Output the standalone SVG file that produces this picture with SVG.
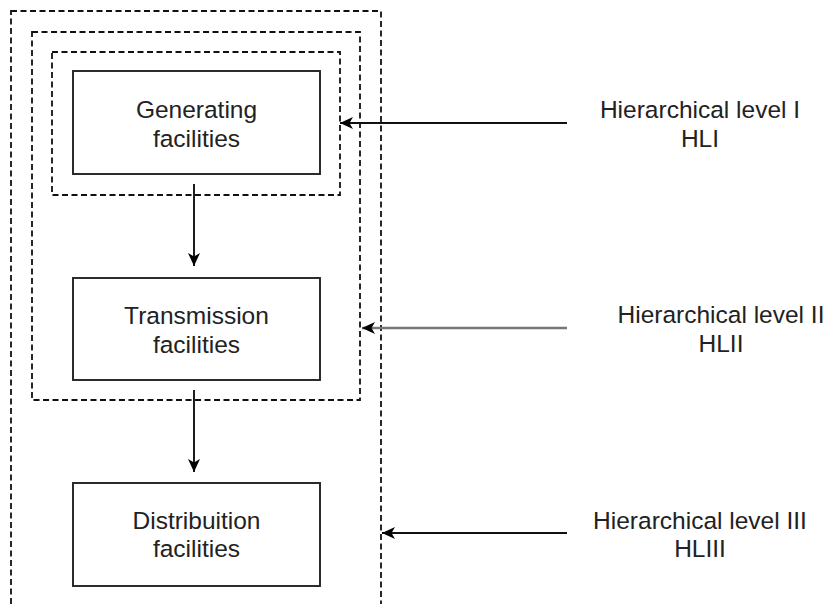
<svg xmlns="http://www.w3.org/2000/svg" width="827" height="604" viewBox="0 0 827 604">
  <style>
    .frame { fill: none; stroke: #111; stroke-width: 1.8; stroke-dasharray: 6 3.5; }
    .box { fill: #fff; stroke: #222; stroke-width: 1.9; }
    .lbl { font-family: "Liberation Sans", Arial, sans-serif; font-size: 24.5px; fill: #222; text-anchor: middle; }
    .wire { fill: none; stroke: #111; stroke-width: 1.9; }
    .wire.grey { stroke: #777; stroke-width: 2.4; }
  </style>
  <defs>
    <marker id="head" markerUnits="userSpaceOnUse" markerWidth="16" markerHeight="14" refX="13" refY="7" orient="auto">
      <path d="M0,1 L13,7 L0,13 L3.5,7 Z" fill="#000"/>
    </marker>
  </defs>

  <!-- nested hierarchical level frames -->
  <g id="frame-hl3"><rect class="frame" x="11" y="11" width="370" height="620"/></g>
  <g id="frame-hl2"><rect class="frame" x="32" y="32" width="328" height="368"/></g>
  <g id="frame-hl1"><rect class="frame" x="52" y="52" width="288" height="143"/></g>

  <!-- facility nodes -->
  <g id="generating">
    <rect class="box" x="73" y="71" width="247" height="103"/>
    <text class="lbl" x="196.5" y="118">Generating</text>
    <text class="lbl" x="196.5" y="147">facilities</text>
  </g>
  <g id="transmission">
    <rect class="box" x="73" y="278" width="247" height="102"/>
    <text class="lbl" x="196.5" y="324">Transmission</text>
    <text class="lbl" x="196.5" y="353">facilities</text>
  </g>
  <g id="distribution">
    <rect class="box" x="73" y="483" width="247" height="103"/>
    <text class="lbl" x="196.5" y="529">Distribuition</text>
    <text class="lbl" x="196.5" y="557">facilities</text>
  </g>

  <!-- level labels -->
  <g id="label-hl1">
    <text class="lbl" x="700" y="118">Hierarchical level I</text>
    <text class="lbl" x="700" y="147">HLI</text>
  </g>
  <g id="label-hl2">
    <text class="lbl" x="721" y="323">Hierarchical level II</text>
    <text class="lbl" x="721" y="352">HLII</text>
  </g>
  <g id="label-hl3">
    <text class="lbl" x="700" y="529">Hierarchical level III</text>
    <text class="lbl" x="700" y="557">HLIII</text>
  </g>

  <!-- connectors -->
  <g id="connectors">
    <line class="wire" x1="194" y1="184" x2="194" y2="266" marker-end="url(#head)"/>
    <line class="wire" x1="194" y1="390" x2="194" y2="472" marker-end="url(#head)"/>
    <line class="wire" x1="567" y1="123" x2="340" y2="123" marker-end="url(#head)"/>
    <line class="wire grey" x1="567" y1="328" x2="362" y2="328" marker-end="url(#head)"/>
    <line class="wire" x1="567" y1="533" x2="382" y2="533" marker-end="url(#head)"/>
  </g>
</svg>
